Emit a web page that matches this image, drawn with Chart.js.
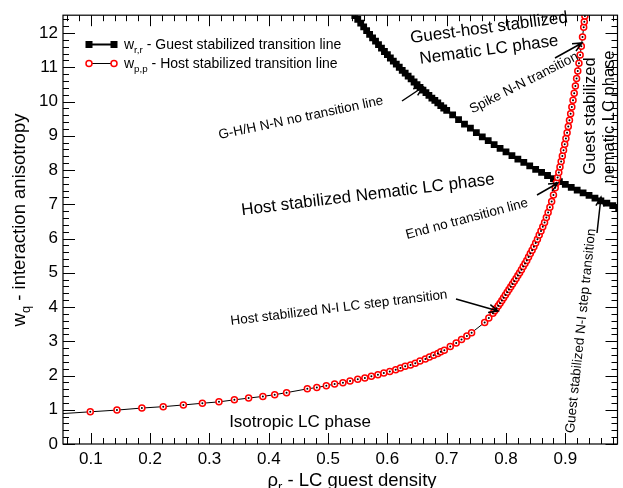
<!DOCTYPE html>
<html>
<head>
<meta charset="utf-8">
<script src="https://cdn.jsdelivr.net/npm/chart.js@4.4.1/dist/chart.umd.min.js"></script>
<style>
  html, body { margin: 0; padding: 0; background: #fff; }
  #wrap { width: 623px; height: 488px; position: relative; }
</style>
</head>
<body>
<div id="wrap"><canvas id="chart"></canvas></div>
<script>
// w_r,r - guest stabilized transition line (black squares)
const guestX = [0.545, 0.55, 0.555, 0.56, 0.565, 0.57, 0.575, 0.58, 0.585, 0.59, 0.595, 0.60, 0.605, 0.61, 0.615,
  0.62, 0.625, 0.63, 0.635, 0.64, 0.645, 0.65, 0.655, 0.66, 0.665, 0.67, 0.675, 0.68, 0.685, 0.69, 0.695,
  0.70, 0.71, 0.72, 0.73, 0.74, 0.75, 0.76, 0.77, 0.78, 0.79, 0.80, 0.81, 0.82, 0.83, 0.84, 0.85, 0.86,
  0.87, 0.88, 0.89, 0.90, 0.91, 0.92, 0.93, 0.94, 0.95, 0.96, 0.97, 0.98, 0.99];
const guestY = [12.51, 12.40, 12.29, 12.18, 12.07, 11.96, 11.86, 11.76, 11.66, 11.56, 11.46, 11.37, 11.27, 11.18, 11.09,
  11.00, 10.91, 10.83, 10.74, 10.66, 10.57, 10.49, 10.41, 10.33, 10.26, 10.18, 10.10, 10.03, 9.96, 9.88, 9.81,
  9.74, 9.61, 9.47, 9.34, 9.22, 9.09, 8.97, 8.86, 8.74, 8.63, 8.53, 8.42, 8.32, 8.22, 8.12, 8.02, 7.93,
  7.84, 7.75, 7.66, 7.58, 7.49, 7.41, 7.33, 7.26, 7.18, 7.10, 7.03, 6.96, 6.89];

// w_p,p - host stabilized transition line (red circles)
const hostX = [0.050, 0.099, 0.144, 0.186, 0.222, 0.256, 0.288, 0.316, 0.342, 0.366, 0.390, 0.410, 0.430,
  0.465, 0.481, 0.497, 0.511, 0.525, 0.537, 0.550, 0.562, 0.573, 0.584, 0.594, 0.604, 0.614, 0.622,
  0.630, 0.639, 0.647, 0.655, 0.664, 0.671, 0.678, 0.685, 0.690, 0.696, 0.706, 0.716, 0.725, 0.734,
  0.742, 0.764, 0.771, 0.778, 0.781, 0.784, 0.787, 0.790, 0.793, 0.796, 0.799, 0.802, 0.805, 0.808,
  0.811, 0.814, 0.817, 0.820, 0.823, 0.826, 0.829, 0.832, 0.835, 0.838, 0.841, 0.844, 0.847, 0.850,
  0.853, 0.856, 0.859, 0.862, 0.865, 0.868, 0.871, 0.874, 0.877, 0.880, 0.883, 0.885, 0.887, 0.889,
  0.891, 0.893, 0.895, 0.897, 0.899, 0.901, 0.903, 0.905, 0.907, 0.909, 0.911, 0.913, 0.915, 0.917,
  0.919, 0.921, 0.923, 0.925, 0.927, 0.929, 0.931, 0.932, 0.933];
const hostY = [0.885, 0.94, 0.99, 1.05, 1.09, 1.14, 1.19, 1.23, 1.29, 1.34, 1.39, 1.44, 1.50,
  1.61, 1.65, 1.70, 1.75, 1.79, 1.84, 1.89, 1.93, 1.98, 2.02, 2.07, 2.12, 2.17, 2.22,
  2.27, 2.31, 2.36, 2.42, 2.48, 2.54, 2.59, 2.64, 2.69, 2.74, 2.85, 2.95, 3.05, 3.15,
  3.25, 3.55, 3.68, 3.82, 3.89, 3.96, 4.04, 4.11, 4.19, 4.27, 4.35, 4.43, 4.51, 4.59,
  4.67, 4.75, 4.83, 4.92, 5.00, 5.09, 5.18, 5.27, 5.36, 5.46, 5.56, 5.66, 5.76, 5.87,
  5.98, 6.10, 6.22, 6.34, 6.47, 6.61, 6.76, 6.91, 7.08, 7.27, 7.48, 7.63, 7.78, 7.93,
  8.09, 8.25, 8.41, 8.58, 8.75, 8.92, 9.09, 9.27, 9.45, 9.64, 9.84, 10.04, 10.24, 10.45,
  10.67, 10.89, 11.12, 11.36, 11.61, 11.88, 12.17, 12.33, 12.50];

const xTickVals = [0.1, 0.2, 0.3, 0.4, 0.5, 0.6, 0.7, 0.8, 0.9];
const yTickVals = [0, 1, 2, 3, 4, 5, 6, 7, 8, 9, 10, 11, 12];

const FONT = '"Liberation Sans", Arial, Helvetica, sans-serif';

const guestPts = guestX.map((x, i) => ({ x, y: guestY[i] }));
const hostPts = hostX.map((x, i) => ({ x, y: hostY[i] }));

// plain and rotated labels drawn on the canvas
const notes = [
  { t: 'Guest-host stabilized', x: 489, y: 28, a: -7.5, s: 17 },
  { t: 'Nematic LC phase', x: 489, y: 50, a: -7.5, s: 17 },
  { t: 'Spike N-N transition', x: 524, y: 83, a: -27, s: 13.5 },
  { t: 'G-H/H N-N no transition line', x: 301, y: 118, a: -12, s: 13.5 },
  { t: 'Host stabilized Nematic LC phase', x: 368, y: 195, a: -7, s: 17 },
  { t: 'End no transition line', x: 467, y: 219, a: -15, s: 13.5 },
  { t: 'Host stabilized N-I LC step transition', x: 339, y: 308, a: -7, s: 13.5 },
  { t: 'Guest stabilized N-I step transition', x: 581, y: 331, a: -84, s: 13.5 },
  { t: 'Guest stabilized', x: 590, y: 116, a: -90, s: 16.5 },
  { t: 'nematic LC phase', x: 609, y: 117, a: -90, s: 16.5 },
  { t: 'Isotropic LC phase', x: 300, y: 422, a: 0, s: 17 }
];
const arrows = [
  [402, 101, 423, 87],
  [555, 58, 582, 43],
  [537, 195, 558, 183],
  [456, 299, 498, 311],
  [597, 233, 601, 197]
];

function drawArrow(ctx, x1, y1, x2, y2) {
  const ang = Math.atan2(y2 - y1, x2 - x1);
  const h = 10, spread = 0.42;
  ctx.beginPath();
  ctx.moveTo(x1, y1);
  ctx.lineTo(x2, y2);
  ctx.moveTo(x2 - h * Math.cos(ang - spread), y2 - h * Math.sin(ang - spread));
  ctx.lineTo(x2, y2);
  ctx.lineTo(x2 - h * Math.cos(ang + spread), y2 - h * Math.sin(ang + spread));
  ctx.stroke();
}

// text pieces: [string, isSubscript]
function drawRich(ctx, parts, size, x, y, align) {
  const sub = size * 0.7;
  let w = 0;
  parts.forEach(p => {
    ctx.font = (p[1] ? sub : size) + 'px ' + FONT;
    w += ctx.measureText(p[0]).width;
  });
  let cx = align === 'center' ? x - w / 2 : x;
  ctx.textAlign = 'left';
  ctx.textBaseline = 'alphabetic';
  parts.forEach(p => {
    ctx.font = (p[1] ? sub : size) + 'px ' + FONT;
    ctx.fillText(p[0], cx, p[1] ? y + size * 0.28 : y);
    cx += ctx.measureText(p[0]).width;
  });
}

const decorPlugin = {
  id: 'decor',
  afterDatasetsDraw(chart) {
    const { ctx, chartArea: a, scales: { x, y } } = chart;
    ctx.save();
    ctx.strokeStyle = '#000';
    ctx.lineWidth = 1.2;
    ctx.strokeRect(a.left, a.top, a.right - a.left, a.bottom - a.top);
    ctx.lineWidth = 1;
    ctx.beginPath();
    for (let i = 0; i <= 50; i++) {
      const v = i * 0.02;
      if (v < x.min || v > x.max) continue;
      const px = Math.round(x.getPixelForValue(v)) + 0.5;
      const len = i % 5 === 0 ? 11 : 6;
      ctx.moveTo(px, a.bottom); ctx.lineTo(px, a.bottom - len);
      ctx.moveTo(px, a.top); ctx.lineTo(px, a.top + len);
    }
    for (let i = 0; i <= 63; i++) {
      const v = i * 0.2;
      if (v < y.min || v > y.max) continue;
      const py = Math.round(y.getPixelForValue(v)) + 0.5;
      const len = i % 5 === 0 ? 12 : 6;
      ctx.moveTo(a.left, py); ctx.lineTo(a.left + len, py);
      ctx.moveTo(a.right, py); ctx.lineTo(a.right - len, py);
    }
    ctx.stroke();
    ctx.restore();
  },
  afterDraw(chart) {
    const { ctx } = chart;
    ctx.save();
    ctx.fillStyle = '#000';
    ctx.strokeStyle = '#000';

    notes.forEach(n => {
      ctx.save();
      ctx.translate(n.x, n.y);
      ctx.rotate(n.a * Math.PI / 180);
      ctx.font = n.s + 'px ' + FONT;
      ctx.textAlign = 'center';
      ctx.textBaseline = 'middle';
      ctx.fillText(n.t, 0, 0);
      ctx.restore();
    });

    ctx.lineWidth = 1.5;
    arrows.forEach(r => drawArrow(ctx, r[0], r[1], r[2], r[3]));

    // legend
    ctx.lineWidth = 2;
    ctx.beginPath(); ctx.moveTo(89, 44.5); ctx.lineTo(114, 44.5); ctx.stroke();
    ctx.fillRect(85.5, 41, 7, 7);
    ctx.fillRect(110.5, 41, 7, 7);
    ctx.lineWidth = 1;
    ctx.beginPath(); ctx.moveTo(89, 63.5); ctx.lineTo(114, 63.5); ctx.stroke();
    ctx.strokeStyle = '#ff0000';
    ctx.lineWidth = 1.5;
    [89, 114].forEach(cx => { ctx.beginPath(); ctx.arc(cx, 63.5, 3, 0, Math.PI * 2); ctx.fillStyle = '#fff'; ctx.fill(); ctx.stroke(); });
    ctx.fillStyle = '#000';
    drawRich(ctx, [['w', false], ['r,r', true], [' - Guest stabilized transition line', false]], 14, 124, 49, 'left');
    drawRich(ctx, [['w', false], ['p,p', true], [' - Host stabilized transition line', false]], 14, 124, 68, 'left');

    // axis titles
    drawRich(ctx, [['\u03c1', false], ['r', true], [' - LC guest density', false]], 18.5, 352, 486, 'center');
    ctx.save();
    ctx.translate(25, 220);
    ctx.rotate(-Math.PI / 2);
    drawRich(ctx, [['w', false], ['q', true], [' - interaction anisotropy', false]], 18.5, 0, 0, 'center');
    ctx.restore();

    ctx.restore();
  }
};

new Chart(document.getElementById('chart'), {
  type: 'scatter',
  data: {
    datasets: [
      {
        label: 'dots',
        data: hostPts,
        showLine: false,
        pointRadius: ctx => ctx.dataIndex === 0 ? 0 : 1,
        pointBackgroundColor: '#000',
        pointBorderWidth: 0,
        order: 0
      },
      {
        label: 'w_p,p - Host stabilized transition line',
        data: hostPts,
        showLine: true,
        borderColor: '#000',
        borderWidth: 1,
        pointStyle: 'circle',
        pointRadius: ctx => ctx.dataIndex === 0 ? 0 : 3,
        pointBorderColor: '#ff0000',
        pointBackgroundColor: '#ffffff',
        pointBorderWidth: 1.5,
        order: 1
      },
      {
        label: 'w_r,r - Guest stabilized transition line',
        data: guestPts,
        showLine: true,
        borderColor: '#000',
        borderWidth: 2,
        pointStyle: 'rect',
        pointRadius: 4.8,
        pointBackgroundColor: '#000',
        pointBorderColor: '#000',
        pointBorderWidth: 0,
        order: 2
      }
    ]
  },
  options: {
    responsive: true,
    maintainAspectRatio: false,
    animation: false,
    devicePixelRatio: 1,
    layout: { padding: { top: 15, right: 1, left: 0, bottom: 0 } },
    plugins: { legend: { display: false }, tooltip: { enabled: false } },
    scales: {
      x: {
        type: 'linear',
        min: 0.053,
        max: 0.988,
        afterBuildTicks: s => { s.ticks = xTickVals.map(v => ({ value: v })); },
        afterFit: s => { s.height = 44; },
        grid: { display: false, drawTicks: false },
        border: { display: false },
        ticks: { color: '#000', font: { family: FONT, size: 17 }, padding: 5, maxRotation: 0, callback: v => v.toFixed(1) }
      },
      y: {
        type: 'linear',
        min: 0,
        max: 12.52,
        afterBuildTicks: s => { s.ticks = yTickVals.map(v => ({ value: v })); },
        afterFit: s => { s.width = 63; },
        grid: { display: false, drawTicks: false },
        border: { display: false },
        ticks: { color: '#000', font: { family: FONT, size: 17 }, padding: 5 }
      }
    }
  },
  plugins: [decorPlugin]
});
</script>
</body>
</html>
